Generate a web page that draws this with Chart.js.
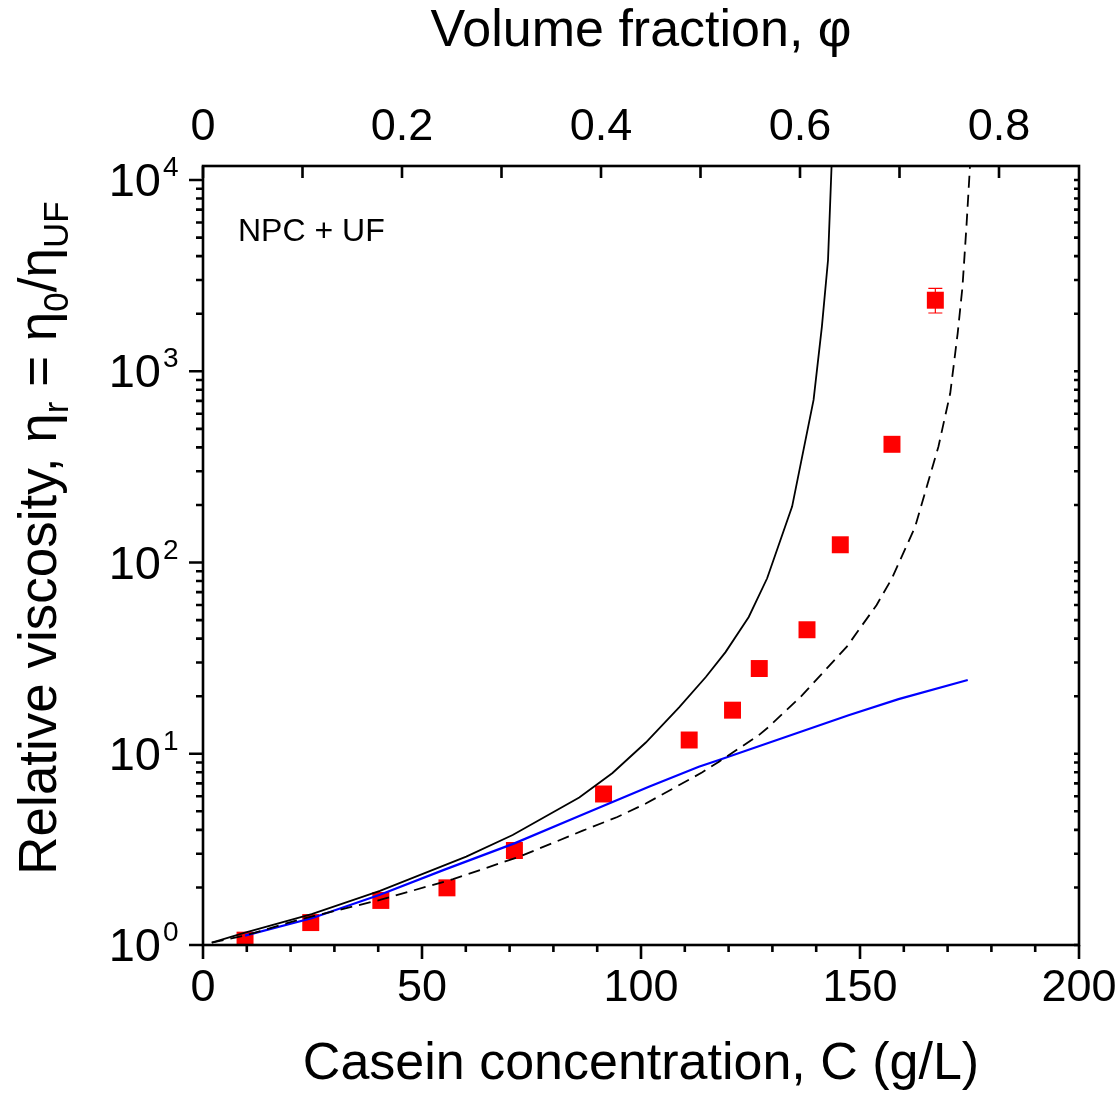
<!DOCTYPE html>
<html><head><meta charset="utf-8">
<script src="https://cdn.jsdelivr.net/npm/chart.js@4.4.1/dist/chart.umd.min.js"></script>
<style>html,body{margin:0;padding:0;background:#fff}#wrap{width:1117px;height:1097px}</style>
</head><body><div id="wrap"><canvas id="c" width="1117" height="1097"></canvas></div>
<script>
// ---- data ----
const pointC   = [9.6, 24.6, 40.6, 55.7, 71.1, 91.45, 111.0, 120.9, 127.0, 137.9, 145.5, 157.3, 167.2];
const pointEta = [1.06, 1.31, 1.71, 1.99, 3.12, 6.16, 11.8, 16.9, 27.9, 44.5, 123.8, 415, 2352];
const errIndex = [12];
const errLow   = [2017];
const errHigh  = [2715];

const solidC   = [2.0, 9.6, 24.8, 40.4, 60.1, 70.7, 85.9, 93.5, 101.1, 108.7, 114.8, 119.3, 124.6, 128.8, 134.5, 139.4, 141.3, 142.7, 143.5];
const solidEta = [1.03, 1.16, 1.45, 1.92, 2.90, 3.76, 5.91, 7.93, 11.45, 17.5, 25.2, 34.0, 51.9, 82.7, 196, 708, 1710, 3819, 11700];

const dashC    = [2.0, 9.6, 22.1, 40.4, 57.1, 72.3, 86.7, 94.6, 101.1, 114.0, 117.8, 126.9, 129.2, 136.5, 147.0, 153.8, 157.3, 162.6, 167.9, 170.6, 172.3, 173.4, 174.3, 175.1];
const dashEta  = [1.03, 1.12, 1.36, 1.72, 2.21, 2.90, 3.96, 4.67, 5.49, 8.0, 9.09, 12.5, 13.85, 19.9, 36.3, 60, 82.7, 154, 403, 767, 1579, 2768, 5700, 11700];

const blueC    = [9.6, 24.8, 40.4, 55, 71.1, 85.9, 101.8, 113.2, 117.8, 147.4, 158.8, 174.6];
const blueEta  = [1.12, 1.38, 1.83, 2.47, 3.40, 4.73, 6.73, 8.56, 9.27, 15.9, 19.3, 24.3];

const bottomTicks  = [0, 50, 100, 150, 200];
const bottomLabels = ['0', '50', '100', '150', '200'];
const topTicks     = [0, 0.2, 0.4, 0.6, 0.8];
const topLabels    = ['0', '0.2', '0.4', '0.6', '0.8'];
const yTicks       = [1, 10, 100, 1000, 10000];
const yTickBase    = ['10', '10', '10', '10', '10'];
const yTickExp     = ['0', '1', '2', '3', '4'];

const xMin = 0, xMax = 200;
const phiMin = 0, phiMax = 0.8804;
const yMin = 1, yMax = 11837;

const xTitle = 'Casein concentration, C (g/L)';
const topTitle = 'Volume fraction, \u03C6';
const yTitleParts = [['Relative viscosity, \u03B7', 0], ['r', 1], [' = \u03B7', 0], ['0', 1], ['/\u03B7', 0], ['UF', 1]];
const panelLabel = 'NPC + UF';

// ---- chart ----
const FONT = "'Liberation Sans', Arial, sans-serif";
const toXY = (xs, ys) => xs.map((x, i) => ({x: x, y: ys[i]}));

const decor = {
  id: 'decor',
  beforeDatasetsDraw(chart) {
    const ctx = chart.ctx, xs = chart.scales.x, ys = chart.scales.y;
    ctx.save();
    ctx.strokeStyle = '#ff0000';
    ctx.lineWidth = 1.2;
    errIndex.forEach((idx, k) => {
      const px = xs.getPixelForValue(pointC[idx]);
      const y1 = ys.getPixelForValue(errLow[k]);
      const y2 = ys.getPixelForValue(errHigh[k]);
      ctx.beginPath();
      ctx.moveTo(px, y1); ctx.lineTo(px, y2);
      ctx.moveTo(px - 7, y1); ctx.lineTo(px + 7, y1);
      ctx.moveTo(px - 7, y2); ctx.lineTo(px + 7, y2);
      ctx.stroke();
    });
    ctx.restore();
  },
  afterDraw(chart) {
    const ctx = chart.ctx, a = chart.chartArea;
    const xs = chart.scales.x, x2 = chart.scales.x2, ys = chart.scales.y;
    ctx.save();
    ctx.strokeStyle = '#000';
    ctx.lineWidth = 2.6;
    ctx.lineCap = 'butt';
    ctx.strokeRect(a.left, a.top, a.right - a.left, a.bottom - a.top);
    ctx.beginPath();
    for (let v = xMin; v <= xMax + 1e-9; v += 10) {
      const px = xs.getPixelForValue(v);
      const len = bottomTicks.includes(v) ? 14 : 7;
      ctx.moveTo(px, a.bottom); ctx.lineTo(px, a.bottom + len);
    }
    for (let k = 0; k <= 8; k++) {
      const px = x2.getPixelForValue(k / 10);
      ctx.moveTo(px, a.top); ctx.lineTo(px, a.top + 12);
    }
    for (let d = 0; d <= 4; d++) {
      for (let m = 1; m <= 9; m++) {
        const v = m * Math.pow(10, d);
        if (v > yMax) continue;
        const py = ys.getPixelForValue(v);
        const len = m === 1 ? 14 : 7;
        ctx.moveTo(a.left, py); ctx.lineTo(a.left - len, py);
        ctx.moveTo(a.right, py); ctx.lineTo(a.right - 5, py);
      }
    }
    ctx.stroke();

    ctx.fillStyle = '#000';
    ctx.textBaseline = 'alphabetic';
    yTicks.forEach((v, i) => {
      const py = ys.getPixelForValue(v);
      ctx.font = '47px ' + FONT;
      ctx.textAlign = 'right';
      ctx.fillText(yTickBase[i], 161, py + 16);
      ctx.font = '28px ' + FONT;
      ctx.textAlign = 'left';
      ctx.fillText(yTickExp[i], 163, py - 4);
    });

    const mainSize = 53, subSize = 35;
    ctx.save();
    ctx.translate(56, 538);
    ctx.rotate(-Math.PI / 2);
    let total = 0;
    yTitleParts.forEach(p => { ctx.font = (p[1] ? subSize : mainSize) + 'px ' + FONT; total += ctx.measureText(p[0]).width; });
    let cx = -total / 2;
    ctx.textAlign = 'left';
    yTitleParts.forEach(p => {
      ctx.font = (p[1] ? subSize : mainSize) + 'px ' + FONT;
      ctx.fillText(p[0], cx, p[1] ? 12 : 0);
      cx += ctx.measureText(p[0]).width;
    });
    ctx.restore();

    ctx.font = '32px ' + FONT;
    ctx.textAlign = 'left';
    ctx.fillText(panelLabel, 238, 241);
    ctx.restore();
  }
};

new Chart(document.getElementById('c'), {
  type: 'scatter',
  data: {
    datasets: [
      {type: 'line', data: toXY(solidC, solidEta), borderColor: '#000', borderWidth: 1.8, pointRadius: 0, fill: false, tension: 0, xAxisID: 'x', yAxisID: 'y'},
      {type: 'line', data: toXY(dashC, dashEta), borderColor: '#000', borderWidth: 1.8, borderDash: [12, 7], pointRadius: 0, fill: false, tension: 0, xAxisID: 'x', yAxisID: 'y'},
      {type: 'line', data: toXY(blueC, blueEta), borderColor: '#0000ff', borderWidth: 2.2, pointRadius: 0, fill: false, tension: 0, xAxisID: 'x', yAxisID: 'y'},
      {type: 'scatter', data: toXY(pointC, pointEta), pointStyle: 'rect', pointRadius: 12, backgroundColor: '#ff0000', borderColor: '#ff0000', borderWidth: 0, xAxisID: 'x', yAxisID: 'y'}
    ]
  },
  options: {
    responsive: false, animation: false, devicePixelRatio: 1,
    layout: {padding: {left: 0, right: 38, top: 0, bottom: 0}},
    plugins: {legend: {display: false}, tooltip: {enabled: false}},
    scales: {
      x: {
        type: 'linear', position: 'bottom', min: xMin, max: xMax,
        afterFit(s) { s.height = 152; s.paddingLeft = 0; s.paddingRight = 0; },
        afterBuildTicks(s) { s.ticks = bottomTicks.map(v => ({value: v})); },
        ticks: {callback: (v, i) => bottomLabels[i], font: {family: FONT, size: 45, lineHeight: 1}, color: '#000', padding: 21, maxRotation: 0, autoSkip: false},
        grid: {display: false, drawTicks: false}, border: {display: false},
        title: {display: true, text: xTitle, color: '#000', font: {family: FONT, size: 52, lineHeight: 1}, padding: {top: 0, bottom: 6}}
      },
      x2: {
        type: 'linear', position: 'top', min: phiMin, max: phiMax,
        afterFit(s) { s.height = 166; s.paddingLeft = 0; s.paddingRight = 0; },
        afterBuildTicks(s) { s.ticks = topTicks.map(v => ({value: v})); },
        ticks: {callback: (v, i) => topLabels[i], font: {family: FONT, size: 45, lineHeight: 1}, color: '#000', padding: 16, maxRotation: 0, autoSkip: false},
        grid: {display: false, drawTicks: false}, border: {display: false},
        title: {display: true, text: topTitle, color: '#000', font: {family: FONT, size: 52, lineHeight: 1}, padding: {top: 6, bottom: 0}}
      },
      y: {
        type: 'logarithmic', position: 'left', min: yMin, max: yMax,
        afterFit(s) { s.width = 203; s.paddingTop = 0; s.paddingBottom = 0; },
        ticks: {display: false},
        grid: {display: false, drawTicks: false}, border: {display: false}
      }
    }
  },
  plugins: [decor]
});
</script>
</body></html>
